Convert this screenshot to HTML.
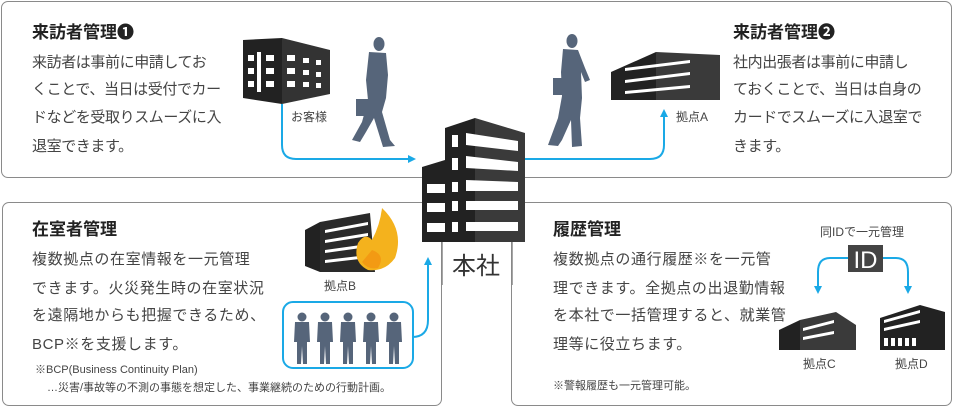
<!DOCTYPE html>
<html><head><meta charset="utf-8"><style>
body{margin:0;width:954px;height:407px;background:#fff;position:relative;overflow:hidden;font-family:"Liberation Sans","Noto Sans CJK JP",sans-serif;color:#444}
.box{position:absolute;border:1.5px solid #8a8a8a;border-radius:7px;background:#fff}
.t{position:absolute;white-space:nowrap;line-height:1}
.h{font-size:17px;font-weight:bold;color:#222}
.p{font-size:15px;letter-spacing:-0.4px;color:#444}
.p2{font-size:15px;letter-spacing:0.6px;color:#444}
.s{font-size:11px;color:#444}
svg{position:absolute;left:0;top:0}
</style></head><body>
<div class="box" style="left:1px;top:1px;width:949px;height:175px"></div>
<div class="box" style="left:2px;top:202px;width:438px;height:202px"></div>
<div class="box" style="left:511px;top:202px;width:439px;height:202px"></div>

<div class="t h" style="left:32px;top:24px">来訪者管理❶</div>
<div class="t p" style="left:32px;top:55px">来訪者は事前に申請してお</div>
<div class="t p" style="left:32px;top:82px">くことで、当日は受付でカー</div>
<div class="t p" style="left:32px;top:110px">ドなどを受取りスムーズに入</div>
<div class="t p" style="left:32px;top:139px">退室できます。</div>

<div class="t h" style="left:733px;top:24px">来訪者管理❷</div>
<div class="t p" style="left:733px;top:55px">社内出張者は事前に申請し</div>
<div class="t p" style="left:733px;top:82px">ておくことで、当日は自身の</div>
<div class="t p" style="left:733px;top:110px">カードでスムーズに入退室で</div>
<div class="t p" style="left:733px;top:139px">きます。</div>

<div class="t h" style="left:32px;top:221px">在室者管理</div>
<div class="t p2" style="left:32px;top:252px">複数拠点の在室情報を一元管理</div>
<div class="t p2" style="left:32px;top:281px">できます。火災発生時の在室状況</div>
<div class="t p2" style="left:32px;top:308px">を遠隔地からも把握できるため、</div>
<div class="t p2" style="left:32px;top:337px">BCP※を支援します。</div>
<div class="t s" style="left:35px;top:365px">※BCP(Business Continuity Plan)</div>
<div class="t s" style="left:47px;top:383px">…災害/事故等の不測の事態を想定した、事業継続のための行動計画。</div>

<div class="t h" style="left:553px;top:221px">履歴管理</div>
<div class="t p2" style="left:553px;top:252px">複数拠点の通行履歴※を一元管</div>
<div class="t p2" style="left:553px;top:281px">理できます。全拠点の出退勤情報</div>
<div class="t p2" style="left:553px;top:308px">を本社で一括管理すると、就業管</div>
<div class="t p2" style="left:553px;top:337px">理等に役立ちます。</div>
<div class="t s" style="left:553px;top:381px">※警報履歴も一元管理可能。</div>

<div class="t s" style="left:291px;top:111px;font-size:12px">お客様</div>
<div class="t s" style="left:676px;top:111px;font-size:12px">拠点A</div>
<div class="t s" style="left:324px;top:280px;font-size:12px">拠点B</div>
<div class="t s" style="left:803px;top:358px;font-size:12px">拠点C</div>
<div class="t s" style="left:895px;top:358px;font-size:12px">拠点D</div>
<div class="t s" style="left:820px;top:226px;font-size:12px">同IDで一元管理</div>
<div class="t" style="left:452px;top:255px;font-size:24px;color:#333">本社</div>

<svg width="954" height="407" viewBox="0 0 954 407">
<defs><marker id="a" markerWidth="8" markerHeight="8" refX="4" refY="4" orient="auto" markerUnits="userSpaceOnUse"><path d="M0,0 L8,4 L0,8 z" fill="#1aa9e6"/></marker></defs>
<g fill="none" stroke="#1aa9e6" stroke-width="2">
<path d="M282,104 V145 Q282,159 296,159 H412" marker-end="url(#a)"/>
<path d="M525,159 H650 Q664,159 664,145 V113" marker-end="url(#a)"/>
<path d="M412,337 Q428,337 428,320 V261" marker-end="url(#a)"/>
<rect x="283" y="302" width="130" height="66" rx="10"/>
<path d="M848,258 H830 Q818,258 818,272 V290" marker-end="url(#a)"/>
<path d="M883,258 H896 Q908,258 908,272 V290" marker-end="url(#a)"/>
</g>
<path d="M442,242 V285 M512,242 V285" stroke="#888" stroke-width="1.5"/>
<path d="M445,128 L475,118 L475,242 L445,242Z" fill="#222"/>
<path d="M475,118 L525,133 L525,242 L475,242Z" fill="#3a3a3a"/>
<path d="M422,167 L445,160 L445,242 L422,242Z" fill="#222"/>
<g fill="#fff">
<rect x="452" y="135" width="6" height="12"/><rect x="452" y="158" width="6" height="12"/>
<rect x="452" y="182" width="6" height="10"/><rect x="452" y="201" width="6" height="10"/><rect x="452" y="222" width="6" height="10"/>
<rect x="427" y="184" width="18" height="9"/><rect x="427" y="203" width="18" height="9"/><rect x="427" y="223" width="18" height="9"/>
<path d="M466,133 L518,141 L518,151 L466,145Z"/><path d="M466,156 L518,162 L518,171 L466,168Z"/>
<path d="M466,180 L518,182 L518,191 L466,191Z"/><path d="M466,201 L518,201 L518,210 L466,210Z"/><path d="M466,222 L518,222 L518,231 L466,231Z"/>
</g>
<path d="M243,40 L282,38 L282,104 L243,98Z" fill="#222"/>
<path d="M282,38 L330,50 L330,94 L282,104Z" fill="#333"/>
<g fill="#fff"><rect x="257" y="52" width="4" height="40"/>
<rect x="248" y="55" width="6" height="6"/><rect x="248" y="68" width="6" height="6"/><rect x="248" y="81" width="6" height="6"/>
<rect x="266" y="55" width="8" height="6"/><rect x="266" y="68" width="8" height="6"/><rect x="266" y="81" width="8" height="6"/>
<rect x="287" y="55" width="8" height="6"/><rect x="287" y="68" width="8" height="6"/><rect x="287" y="81" width="8" height="6"/>
<rect x="303" y="58" width="6" height="5"/><rect x="303" y="70" width="6" height="5"/><rect x="303" y="82" width="6" height="5"/>
<rect x="316" y="60" width="5" height="5"/><rect x="316" y="72" width="5" height="5"/><rect x="316" y="83" width="5" height="5"/></g>
<g fill="#56657a">
<ellipse cx="379" cy="44" rx="5.5" ry="7"/><path d="M369,52 L386,53 L388,75 L386,98 L382,112 L390,140 L395,146 L383,147 L374,118 L366,132 L360,142 L352,140 L362,122 L368,100 L366,80Z"/><rect x="356" y="99" width="12" height="17"/>
<ellipse cx="572" cy="41" rx="5.5" ry="7"/><path d="M563,49 L578,50 L585,68 L590,80 L585,82 L581,72 L582,98 L580,118 L582,146 L572,147 L571,120 L562,140 L558,146 L548,145 L558,118 L562,96 L561,72Z"/><rect x="553" y="78" width="11" height="17"/>
</g>
<path d="M611,72 L656,52 L656,100 L611,100Z" fill="#222"/><path d="M656,52 L720,55 L720,100 L656,100Z" fill="#3a3a3a"/>
<g fill="#fff"><path d="M625,68 L690,60 L690,63 L625,71Z"/><path d="M625,80 L690,72 L690,75 L625,83Z"/><path d="M625,91 L690,85 L690,88 L625,94Z"/></g>
<path d="M305,230 L320,222 L320,272 L305,266Z" fill="#222"/><path d="M320,222 L370,213 L375,272 L320,272Z" fill="#2a2a2a"/>
<g fill="#fff"><path d="M325,230 L368,222 L368,225 L325,233Z"/><path d="M325,240 L368,233 L368,236 L325,243Z"/><path d="M325,250 L368,244 L368,247 L325,253Z"/><path d="M325,260 L368,255 L368,258 L325,263Z"/></g>
<path d="M382,208 Q405,230 395,258 Q385,272 368,270 Q352,262 358,243 Q365,232 372,240 Q380,225 382,208Z" fill="#f4b21d"/>
<path d="M372,250 Q386,255 378,268 Q368,270 362,262Z" fill="#f39a13"/>
<g fill="#56657a">
<g transform="translate(297,312)"><circle cx="5" cy="5" r="4.5"/><path d="M-2,10 H12 L13,30 L10,30 L10,52 L6,52 L5,34 L4,52 L0,52 L0,30 L-3,30Z"/></g>
<g transform="translate(320,312)"><circle cx="5" cy="5" r="4.5"/><path d="M-2,10 H12 L13,30 L10,30 L10,52 L6,52 L5,34 L4,52 L0,52 L0,30 L-3,30Z"/></g>
<g transform="translate(343,312)"><circle cx="5" cy="5" r="4.5"/><path d="M-2,10 H12 L13,30 L10,30 L10,52 L6,52 L5,34 L4,52 L0,52 L0,30 L-3,30Z"/></g>
<g transform="translate(366,312)"><circle cx="5" cy="5" r="4.5"/><path d="M-2,10 H12 L13,30 L10,30 L10,52 L6,52 L5,34 L4,52 L0,52 L0,30 L-3,30Z"/></g>
<g transform="translate(389,312)"><circle cx="5" cy="5" r="4.5"/><path d="M-2,10 H12 L13,30 L10,30 L10,52 L6,52 L5,34 L4,52 L0,52 L0,30 L-3,30Z"/></g>
</g>
<rect x="848" y="245" width="35" height="27" fill="#444"/>
<text x="865.5" y="268" text-anchor="middle" font-size="24" fill="#fff" font-family="Liberation Sans, sans-serif">ID</text>
<path d="M779,330 L800,320 L800,350 L779,350Z" fill="#222"/><path d="M800,320 L836,312 L856,325 L856,350 L800,350Z" fill="#3a3a3a"/>
<g fill="#fff"><path d="M803,328 L834,320 L834,323 L803,331Z"/><path d="M803,337 L834,331 L834,334 L803,340Z"/></g>
<path d="M880,318 L920,305 L945,312 L945,350 L880,350Z" fill="#222"/>
<g fill="#fff"><path d="M884,320 L920,310 L920,313 L884,323Z"/><path d="M884,328 L920,320 L920,323 L884,331Z"/><rect x="884" y="338" width="4" height="8"/><rect x="891" y="338" width="4" height="8"/><rect x="898" y="338" width="4" height="8"/><rect x="905" y="338" width="4" height="8"/><rect x="912" y="338" width="4" height="8"/></g>
</svg>
</body></html>
